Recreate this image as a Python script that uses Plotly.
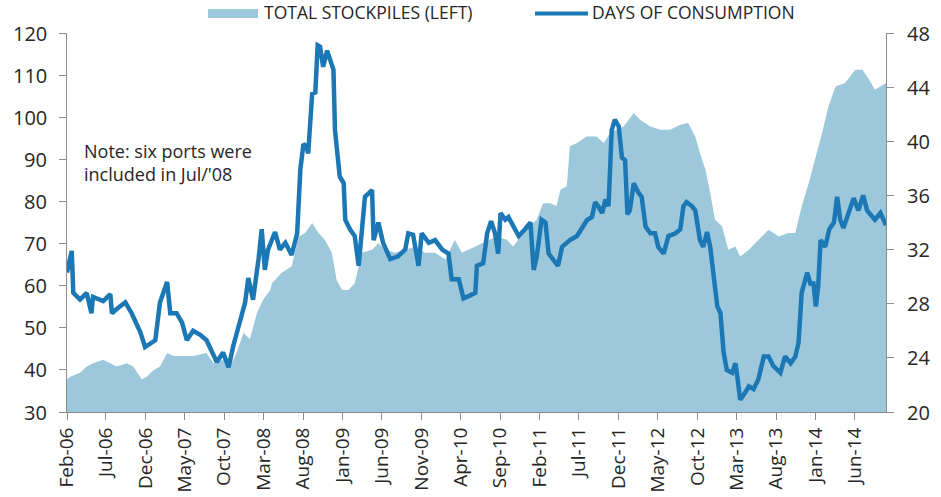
import pandas as pd
import plotly.graph_objects as go

# ---- data (x in months elapsed since 1 Feb 2006) ----
stock_month = [0.0, 0.4, 1.65, 2.5, 3.3, 4.6, 5.5, 6.3, 7.6, 8.4, 9.5, 10.1, 11.0, 11.8, 12.7,
               13.5, 14.8, 16.0, 17.7, 18.6, 19.8, 20.7, 21.5, 22.4, 23.2, 24.1, 24.9, 25.8,
               26.0, 27.2, 28.5, 29.4, 30.2, 31.1, 31.9, 32.7, 33.6, 34.2, 34.9, 35.7, 36.5,
               37.4, 38.7, 39.5, 40.4, 41.6, 42.9, 44.2, 45.4, 46.7, 48.0, 49.2, 50.1, 50.9,
               51.8, 52.8, 54.5, 55.8, 56.6, 57.9, 59.6, 60.4, 61.3, 62.1, 62.6, 63.4, 63.8,
               64.7, 65.9, 67.2, 68.1, 68.9, 70.6, 71.9, 72.7, 74.0, 75.3, 76.5, 77.8, 78.8,
               79.7, 80.3, 81.0, 81.6, 82.2, 83.1, 83.9, 84.8, 85.4, 86.5, 87.7, 89.0, 90.3,
               91.5, 92.4, 93.2, 94.1, 94.9, 95.8, 96.6, 97.5, 98.7, 100.0, 100.9, 101.5,
               102.5, 103.9]
stockpiles = [37.7, 38.4, 39.3, 40.8, 41.6, 42.4, 41.6, 40.8, 41.6, 40.8, 37.7, 38.4, 40.0, 40.8, 44.0,
              43.3, 43.3, 43.3, 44.0, 41.6, 42.4, 40.8, 44.0, 48.8, 47.3, 53.5, 56.7, 59.0,
              60.6, 63.0, 64.6, 71.7, 72.5, 74.9, 72.5, 70.9, 67.8, 61.4, 59.0, 59.0, 60.6,
              67.8, 68.5, 70.1, 68.5, 67.8, 68.5, 69.3, 67.8, 67.8, 66.2, 70.9, 67.8, 68.5,
              69.3, 70.1, 71.7, 70.9, 69.3, 72.5, 75.7, 79.6, 79.6, 78.9, 82.8, 83.6, 93.1,
              93.9, 95.4, 95.4, 93.9, 96.3, 97.8, 101.0, 99.4, 97.8, 97.0, 97.0, 98.2, 98.6,
              95.4, 91.5, 87.5, 82.0, 75.7, 74.1, 68.5, 69.3, 66.9, 68.5, 70.9, 73.3, 71.7,
              72.5, 72.5, 78.8, 84.4, 89.9, 96.3, 102.6, 107.3, 108.1, 111.3, 111.3, 109.7,
              106.5, 108.1]

days_month = [0.0, 0.6, 0.8, 1.65, 2.5, 3.1, 3.3, 4.6, 5.5, 5.7, 6.5, 7.4, 8.2, 9.3, 9.9, 10.5,
              11.2, 11.8, 12.2, 12.7, 13.1, 13.9, 14.6, 15.2, 16.0, 16.9, 17.7, 18.4, 19.0,
              19.8, 20.5, 21.1, 22.0, 22.6, 23.0, 23.6, 24.3, 24.7, 25.1, 25.5, 26.4, 27.0,
              27.7, 28.5, 29.2, 29.6, 30.0, 30.4, 30.6, 31.1, 31.5, 31.8, 32.1, 32.5, 33.0,
              33.4, 33.8, 34.0, 34.6, 35.1, 35.3, 35.9, 36.5, 37.0, 37.4, 37.8, 38.7, 38.9,
              39.5, 40.1, 41.0, 42.0, 42.9, 43.3, 43.9, 44.6, 45.0, 45.9, 46.7, 47.6, 48.4,
              48.8, 49.7, 50.3, 51.1, 51.8, 52.0, 52.8, 53.3, 53.8, 54.3, 54.7, 55.0, 55.6,
              56.0, 56.6, 57.3, 58.1, 58.8, 59.2, 59.6, 60.2, 60.7, 61.1, 62.3, 62.8, 63.8,
              64.7, 65.3, 66.0, 66.6, 67.0, 67.4, 67.9, 68.3, 68.7, 69.1, 69.5, 70.0, 70.4,
              70.8, 71.1, 71.4, 71.9, 72.5, 72.9, 73.4, 74.0, 74.6, 75.0, 75.7, 76.3, 77.2,
              77.8, 78.2, 78.6, 79.3, 79.7, 80.3, 80.7, 81.2, 81.6, 82.5, 82.9, 83.3, 83.7,
              84.4, 84.8, 85.0, 85.4, 86.0, 86.5, 87.1, 87.7, 88.4, 89.0, 89.6, 90.5, 91.1,
              91.8, 92.4, 92.8, 93.2, 93.9, 94.3, 94.7, 95.0, 95.3, 95.6, 96.2, 96.7, 97.3,
              97.7, 98.1, 98.5, 99.2, 99.8, 100.4, 101.0, 101.5, 102.1, 102.5, 103.2, 103.9]
days_consumption = [30.3, 31.9, 28.8, 28.3, 28.8, 27.3, 28.5, 28.2, 28.7, 27.3, 27.7, 28.1, 27.3,
                    25.9, 24.8, 25.0, 25.3, 28.1, 28.8, 29.6, 27.3, 27.3, 26.6, 25.3, 26.0,
                    25.7, 25.3, 24.4, 23.7, 24.4, 23.3, 24.9, 26.8, 28.1, 29.9, 28.3, 31.3,
                    33.5, 30.5, 32.0, 33.3, 32.0, 32.5, 31.6, 33.2, 37.9, 39.8, 39.6, 39.1,
                    43.5, 43.6, 47.1, 47.0, 45.5, 46.7, 46.0, 45.3, 40.8, 37.4, 36.9, 34.2,
                    33.5, 33.0, 30.8, 33.2, 35.9, 36.4, 32.7, 34.0, 32.5, 31.3, 31.5, 32.0,
                    33.2, 33.1, 30.8, 33.2, 32.5, 32.7, 32.0, 31.7, 29.8, 29.8, 28.4, 28.6,
                    28.8, 30.8, 31.0, 33.2, 34.1, 33.2, 31.7, 34.7, 34.2, 34.4, 33.7, 33.0,
                    33.5, 34.0, 30.5, 31.5, 34.2, 34.0, 31.7, 30.8, 32.2, 32.7, 33.0, 33.5,
                    34.2, 34.4, 35.5, 35.2, 34.7, 35.7, 35.2, 40.8, 41.6, 41.1, 38.8, 38.6,
                    34.6, 34.9, 36.9, 36.2, 35.9, 33.7, 33.2, 33.2, 32.2, 31.7, 33.0, 33.2,
                    33.5, 35.2, 35.5, 35.2, 34.9, 32.7, 32.2, 33.3, 32.2, 27.8, 27.3, 24.4,
                    23.1, 22.9, 23.6, 22.8, 20.9, 21.4, 21.9, 21.7, 22.4, 24.1, 24.1, 23.4,
                    22.9, 24.1, 23.6, 24.1, 25.1, 28.8, 30.3, 29.5, 29.5, 27.8, 29.3, 32.7,
                    32.2, 33.5, 34.0, 35.9, 34.2, 33.6, 34.9, 35.8, 34.9, 36.0, 34.9, 34.4,
                    34.2, 34.7, 33.8]

start_date = pd.Timestamp("2006-02-01")
def to_dates(months):
    return [start_date + pd.Timedelta(days=m * 30.4375) for m in months]

stock_x = to_dates(stock_month)
days_x = to_dates(days_month)

left_ticks = [30, 40, 50, 60, 70, 80, 90, 100, 110, 120]
right_ticks = [20, 24, 28, 32, 36, 40, 44, 48]
legend_labels = ["TOTAL STOCKPILES (LEFT)", "DAYS OF CONSUMPTION"]
note_text = "Note: six ports were<br>included in Jul/'08"

# ---- style ----
FILL = "#9DC8DC"
LINE = "#1B78B4"
AXIS = "#8C8C8C"
TXT = "#262626"
FONT = "Open Sans"

# body margin removed via post_script; screen-space plot area is x 67..886, y 33..412
W, H = 941, 497
PL, PR, PT, PB = 67, 886, 33, 412
ML, MR, MT, MB = PL, W - PR, PT, H - PB
PW, PH = PR - PL, PB - PT
def px(x):
    return (x - PL) / PW
def py(y):
    return (PB - y) / PH

fig = go.Figure()
fig.add_trace(go.Scatter(x=stock_x, y=stockpiles, mode="lines", fill="tozeroy",
                         fillcolor=FILL, line=dict(width=0, color=FILL),
                         name=legend_labels[0], yaxis="y", showlegend=False))
fig.add_trace(go.Scatter(x=days_x, y=days_consumption, mode="lines",
                         line=dict(width=4.5, color=LINE),
                         name=legend_labels[1], yaxis="y2", showlegend=False))

axis_common = dict(showline=True, linecolor=AXIS, linewidth=1, ticks="outside",
                   tickcolor=AXIS, ticklen=7, showgrid=False, zeroline=False,
                   automargin=False)

# y tick labels are placed as annotations on the axis scales so that their
# distance from the axis matches the reference
tick_labels = []
for v in left_ticks:
    tick_labels.append(dict(xref="paper", yref="y", x=px(49), y=v, xanchor="right",
                            yanchor="middle", text=str(v), showarrow=False,
                            font=dict(family=FONT, size=20, color=TXT)))
for v in right_ticks:
    tick_labels.append(dict(xref="paper", yref="y2", x=px(905), y=v, xanchor="left",
                            yanchor="middle", text=str(v), showarrow=False,
                            font=dict(family=FONT, size=20, color=TXT)))

fig.update_layout(
    width=W, height=H,
    margin=dict(l=ML, r=MR, t=MT, b=MB),
    paper_bgcolor="white", plot_bgcolor="white",
    showlegend=False,
    xaxis=dict(type="date", range=[stock_x[0], stock_x[-1]],
               tick0="2006-02-01", dtick="M5", tickformat="%b-%y", tickangle=-90,
               tickfont=dict(family=FONT, size=19, color=TXT), **axis_common),
    yaxis=dict(range=[30, 120], tickvals=left_ticks, showticklabels=False, **axis_common),
    yaxis2=dict(range=[20, 48], tickvals=right_ticks, overlaying="y", side="right",
                showticklabels=False, **axis_common),
    shapes=[
        dict(type="rect", xref="paper", yref="paper", x0=px(208), x1=px(258),
             y0=py(18), y1=py(9), fillcolor=FILL, line=dict(width=0)),
        dict(type="line", xref="paper", yref="paper", x0=px(535), x1=px(588),
             y0=py(13.5), y1=py(13.5), line=dict(color=LINE, width=4)),
    ],
    annotations=tick_labels + [
        dict(xref="paper", yref="paper", x=px(262), y=py(12.5), xanchor="left",
             yanchor="middle", text=legend_labels[0], showarrow=False,
             font=dict(family=FONT, size=17.5, color=TXT)),
        dict(xref="paper", yref="paper", x=px(590), y=py(12.5), xanchor="left",
             yanchor="middle", text=legend_labels[1], showarrow=False,
             font=dict(family=FONT, size=17.5, color=TXT)),
        dict(xref="paper", yref="paper", x=px(82), y=py(162), xanchor="left",
             yanchor="middle", align="left", text=note_text, showarrow=False,
             font=dict(family=FONT, size=18, color=TXT)),
    ],
)

fig.write_html("out.html", config={"displayModeBar": False},
               post_script="document.body.style.margin='0px';")
